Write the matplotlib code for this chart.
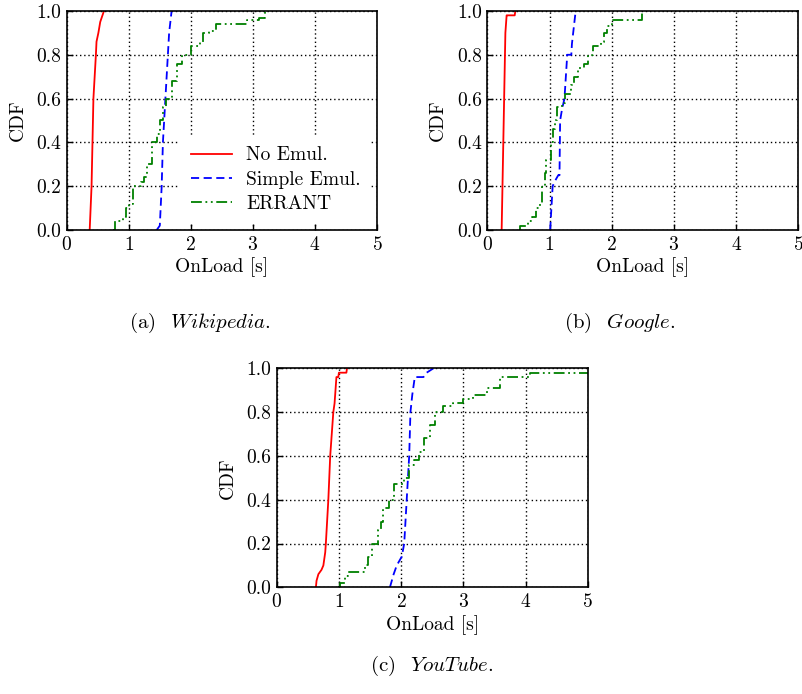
import matplotlib
matplotlib.use("Agg")
import matplotlib.pyplot as plt

plt.rcParams['font.family'] = 'serif'
plt.rcParams['font.serif'] = ['cmr10']
plt.rcParams['mathtext.fontset'] = 'cm'
plt.rcParams['axes.formatter.use_mathtext'] = True
plt.rcParams['axes.unicode_minus'] = False

series_names = ["No Emul.", "Simple Emul.", "ERRANT"]
colors = ["#ff0000", "#0000ff", "#008000"]
styles = ["-", (0, (4.5, 2.5)), (0, (6, 2, 1, 2, 1, 2))]
use_steps = [False, False, True]

x_ticks = [0, 1, 2, 3, 4, 5]
y_ticks = [0.0, 0.2, 0.4, 0.6, 0.8, 1.0]
y_tick_labels = ["0.0", "0.2", "0.4", "0.6", "0.8", "1.0"]

# Wikipedia
wiki_noemul_x = [0.37, 0.40, 0.415, 0.43, 0.47, 0.48, 0.51, 0.54, 0.60]
wiki_noemul_y = [0.0, 0.2, 0.4, 0.6, 0.8, 0.86, 0.9, 0.95, 1.0]
wiki_simple_x = [1.45, 1.50, 1.53, 1.55, 1.59, 1.63, 1.65, 1.69]
wiki_simple_y = [0.0, 0.02, 0.2, 0.4, 0.6, 0.8, 0.9, 1.0]
wiki_errant_x = [0.74, 0.78, 0.91, 0.95, 1.0, 1.07, 1.2, 1.25, 1.3, 1.37, 1.45, 1.5,
                 1.55, 1.6, 1.7, 1.78, 1.85, 2.0, 2.15, 2.2, 2.3, 2.4, 2.9, 3.1, 3.2]
wiki_errant_y = [0.0, 0.04, 0.06, 0.1, 0.12, 0.2, 0.22, 0.24, 0.3, 0.4, 0.44, 0.5,
                 0.56, 0.6, 0.68, 0.76, 0.8, 0.84, 0.86, 0.9, 0.91, 0.94, 0.96, 0.97, 1.0]

# Google
goog_noemul_x = [0.23, 0.25, 0.27, 0.29, 0.31, 0.32, 0.44, 0.45]
goog_noemul_y = [0.0, 0.3, 0.6, 0.9, 0.98, 0.98, 0.98, 1.0]
goog_simple_x = [1.01, 1.05, 1.08, 1.14, 1.16, 1.17, 1.2, 1.24, 1.28, 1.28, 1.35, 1.36, 1.42]
goog_simple_y = [0.0, 0.2, 0.22, 0.25, 0.25, 0.5, 0.55, 0.6, 0.78, 0.8, 0.8, 0.85, 1.0]
goog_errant_x = [0.51, 0.52, 0.65, 0.72, 0.78, 0.85, 0.88, 0.92, 0.95, 1.02, 1.06, 1.09,
                 1.12, 1.2, 1.25, 1.35, 1.4, 1.45, 1.55, 1.62, 1.7, 1.82, 1.87, 1.93, 2.0, 2.48]
goog_errant_y = [0.0, 0.02, 0.04, 0.06, 0.1, 0.12, 0.2, 0.26, 0.32, 0.4, 0.46, 0.5,
                 0.56, 0.58, 0.62, 0.66, 0.7, 0.74, 0.76, 0.8, 0.84, 0.86, 0.9, 0.93, 0.96, 1.0]

# YouTube
yt_noemul_x = [0.63, 0.64, 0.67, 0.72, 0.75, 0.78, 0.79, 0.83, 0.86, 0.91, 0.93, 0.96, 0.99, 1.0, 1.12, 1.13]
yt_noemul_y = [0.0, 0.03, 0.06, 0.08, 0.1, 0.16, 0.2, 0.4, 0.6, 0.8, 0.84, 0.96, 0.96, 0.98, 0.98, 1.0]
yt_simple_x = [1.82, 1.88, 1.93, 2.01, 2.05, 2.09, 2.13, 2.15, 2.18, 2.22, 2.36, 2.41, 2.52]
yt_simple_y = [0.0, 0.06, 0.1, 0.14, 0.2, 0.4, 0.6, 0.8, 0.88, 0.96, 0.96, 0.98, 1.0]
yt_errant_x = [0.98, 1.02, 1.1, 1.15, 1.42, 1.47, 1.53, 1.63, 1.67, 1.71, 1.8, 1.88, 2.04,
               2.12, 2.2, 2.28, 2.36, 2.47, 2.55, 2.68, 2.84, 3.0, 3.16, 3.38, 3.59, 4.07, 5.2]
yt_errant_y = [0.0, 0.02, 0.05, 0.07, 0.1, 0.14, 0.2, 0.26, 0.3, 0.36, 0.4, 0.47, 0.5,
               0.56, 0.58, 0.62, 0.68, 0.74, 0.8, 0.83, 0.84, 0.86, 0.88, 0.91, 0.96, 0.98, 0.98]

panels = [
    dict(pos=[0.0831, 0.6686, 0.3864, 0.3156],
         data=[(wiki_noemul_x, wiki_noemul_y), (wiki_simple_x, wiki_simple_y), (wiki_errant_x, wiki_errant_y)],
         caption=r'(a)$\;\;\;\mathit{Wikipedia}$.', cap=(0.249, 0.5346), legend=True),
    dict(pos=[0.6069, 0.6686, 0.3873, 0.3156],
         data=[(goog_noemul_x, goog_noemul_y), (goog_simple_x, goog_simple_y), (goog_errant_x, goog_errant_y)],
         caption=r'(b)$\;\;\;\mathit{Google}$.', cap=(0.772, 0.5346), legend=False),
    dict(pos=[0.3446, 0.1537, 0.3873, 0.3156],
         data=[(yt_noemul_x, yt_noemul_y), (yt_simple_x, yt_simple_y), (yt_errant_x, yt_errant_y)],
         caption=r'(c)$\;\;\;\mathit{YouTube}$.', cap=(0.538, 0.0403), legend=False),
]

FS = 14

fig = plt.figure(figsize=(8.03, 6.94), dpi=100)

for p in panels:
    ax = fig.add_axes(p['pos'])
    for (xs, ys), name, c, ls, st in zip(p['data'], series_names, colors, styles, use_steps):
        if st:
            ax.step(xs, ys, where='post', color=c, linestyle=ls, linewidth=1.3, label=name)
        else:
            ax.plot(xs, ys, color=c, linestyle=ls, linewidth=1.3, label=name)
    ax.set_xlim(0, 5)
    ax.set_ylim(0, 1)
    ax.set_xticks(x_ticks)
    ax.set_yticks(y_ticks)
    ax.set_yticklabels(y_tick_labels)
    ax.grid(True, color='black', linestyle=(0, (1, 2)), linewidth=1.0)
    ax.set_axisbelow(True)
    ax.tick_params(direction='in', length=4, width=1.0, labelsize=FS, pad=4)
    for s in ax.spines.values():
        s.set_linewidth(1.2)
    ax.set_xlabel('OnLoad [s]', fontsize=FS, labelpad=3)
    ax.set_ylabel('CDF', fontsize=FS, labelpad=7)
    if p['legend']:
        leg = ax.legend(loc='lower left', bbox_to_anchor=(0.365, 0.03), frameon=True,
                        fontsize=FS, handlelength=2.1, borderaxespad=0.0, borderpad=0.55,
                        labelspacing=0.32, handletextpad=0.75)
        leg.get_frame().set_edgecolor('none')
        leg.get_frame().set_facecolor('white')
        leg.get_frame().set_alpha(1.0)
        leg.get_frame().set_boxstyle('square', pad=0)
    fig.text(p['cap'][0], p['cap'][1], p['caption'], ha='center', va='center', fontsize=15)

fig.savefig('out.png', dpi=100)
